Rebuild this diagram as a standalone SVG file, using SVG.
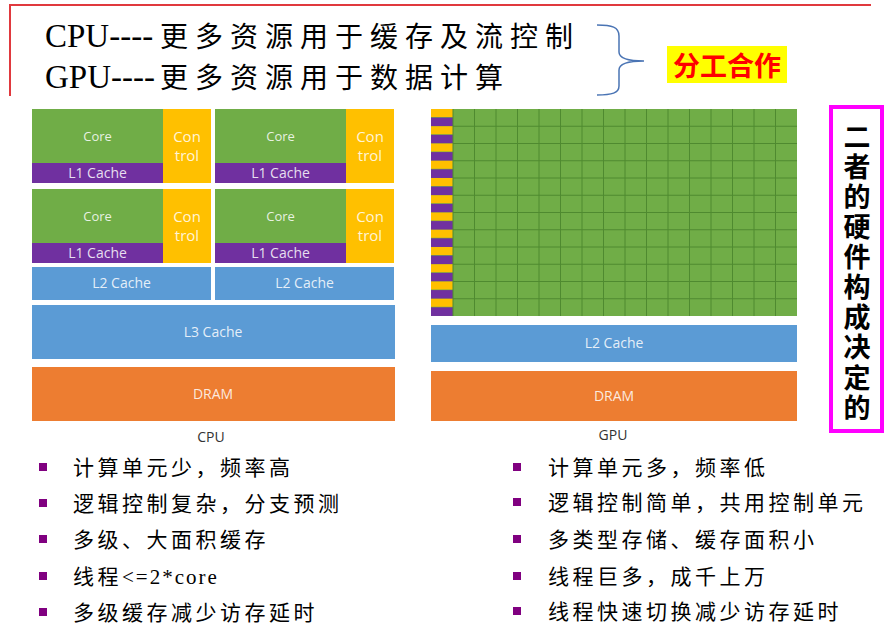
<svg xmlns="http://www.w3.org/2000/svg" width="888" height="636" viewBox="0 0 888 636">
<style>
.ttl{font-family:"Liberation Serif","Noto Sans CJK SC",serif;fill:#000}
.lat{font-size:33px}
.cjk{font-family:"Noto Sans CJK SC",sans-serif;font-size:28px;letter-spacing:7px}
.lbl{font-family:"Open Sans","Liberation Sans",sans-serif;fill:#ffffff;fill-opacity:0.85;text-anchor:middle}
.core{font-size:13px}
.l1{font-size:14px}
.ctl{font-size:15px}
.big{font-size:14px}
.cap{font-family:"Open Sans","Liberation Sans",sans-serif;font-size:14px;fill:#333;text-anchor:middle}
.green{fill:#70ad47}
.purple{fill:#7030a0}
.yellow{fill:#ffc000}
.blue{fill:#5b9bd5}
.orange{fill:#ed7d31}
.bul{fill:#800080}
.btx{font-family:"Noto Sans CJK SC",sans-serif;font-size:21px;letter-spacing:3.5px;fill:#000}
.btxl{font-family:"Liberation Serif",serif;font-size:21px;letter-spacing:2px}
.vt{font-family:"Noto Sans CJK SC",sans-serif;font-size:27px;font-weight:700;fill:#000;writing-mode:vertical-rl;text-orientation:upright;letter-spacing:3.1px}
.grid{stroke:#4f8a30;stroke-width:1}
</style>

<g id="header">
  <path d="M10 96 V5 H871" fill="none" stroke="#e0393e" stroke-width="2"/>
  <text class="ttl" x="45" y="47"><tspan class="lat">CPU----</tspan><tspan class="cjk" x="160">更多资源用于缓存及流控制</tspan></text>
  <text class="ttl" x="45" y="88"><tspan class="lat">GPU----</tspan><tspan class="cjk" x="160">更多资源用于数据计算</tspan></text>
</g>

<g id="connectors">
  <path d="M597 25 C612 25 619 27 619 36 V52 C619 58 626 61 644 61 C626 61 619 64 619 70 V86 C619 93 612 95 597 95" fill="none" stroke="#4a74b4" stroke-width="1.5"/>
</g>

<g id="fengong">
  <rect x="667" y="46" width="120" height="37" fill="#ffff00"/>
  <text x="727" y="76" font-family="Noto Sans CJK SC, sans-serif" font-size="27" font-weight="700" fill="#ff0000" text-anchor="middle">分工合作</text>
</g>

<g id="cpu">
  <g id="cpu-core1">
    <rect class="green" x="32" y="109" width="131" height="54"/>
    <rect class="purple" x="32" y="163" width="131" height="20"/>
    <rect class="yellow" x="163" y="109" width="48" height="74"/>
    <text class="lbl core" x="97.5" y="141">Core</text>
    <text class="lbl l1" x="97.5" y="178">L1 Cache</text>
    <text class="lbl ctl" x="187" y="142">Con</text>
    <text class="lbl ctl" x="187" y="161">trol</text>
  </g>
  <g id="cpu-core2">
    <rect class="green" x="215" y="109" width="131" height="54"/>
    <rect class="purple" x="215" y="163" width="131" height="20"/>
    <rect class="yellow" x="346" y="109" width="48" height="74"/>
    <text class="lbl core" x="280.5" y="141">Core</text>
    <text class="lbl l1" x="280.5" y="178">L1 Cache</text>
    <text class="lbl ctl" x="370" y="142">Con</text>
    <text class="lbl ctl" x="370" y="161">trol</text>
  </g>
  <g id="cpu-core3">
    <rect class="green" x="32" y="189" width="131" height="54"/>
    <rect class="purple" x="32" y="243" width="131" height="20"/>
    <rect class="yellow" x="163" y="189" width="48" height="74"/>
    <text class="lbl core" x="97.5" y="221">Core</text>
    <text class="lbl l1" x="97.5" y="258">L1 Cache</text>
    <text class="lbl ctl" x="187" y="222">Con</text>
    <text class="lbl ctl" x="187" y="241">trol</text>
  </g>
  <g id="cpu-core4">
    <rect class="green" x="215" y="189" width="131" height="54"/>
    <rect class="purple" x="215" y="243" width="131" height="20"/>
    <rect class="yellow" x="346" y="189" width="48" height="74"/>
    <text class="lbl core" x="280.5" y="221">Core</text>
    <text class="lbl l1" x="280.5" y="258">L1 Cache</text>
    <text class="lbl ctl" x="370" y="222">Con</text>
    <text class="lbl ctl" x="370" y="241">trol</text>
  </g>
  <g id="cpu-l2a">
    <rect class="blue" x="32" y="267" width="179" height="33"/>
    <text class="lbl big" x="121.5" y="288">L2 Cache</text>
  </g>
  <g id="cpu-l2b">
    <rect class="blue" x="215" y="267" width="179" height="33"/>
    <text class="lbl big" x="304.5" y="288">L2 Cache</text>
  </g>
  <g id="cpu-l3">
    <rect class="blue" x="32" y="305" width="363" height="54"/>
    <text class="lbl big" x="213" y="337">L3 Cache</text>
  </g>
  <g id="cpu-dram">
    <rect class="orange" x="32" y="367" width="363" height="54"/>
    <text class="lbl big" x="213" y="399">DRAM</text>
  </g>
  <text class="cap" x="211" y="442">CPU</text>
</g>

<g id="gpu">
  <g id="gpu-grid">
    <rect class="green" x="431" y="109" width="366" height="207"/>
    <g id="gpu-strip">
      <rect class="yellow" x="431" y="109" width="22" height="8"/><rect class="purple" x="431" y="117.6" width="22" height="8.6"/>
      <rect class="yellow" x="431" y="126.25" width="22" height="8"/><rect class="purple" x="431" y="134.85" width="22" height="8.6"/>
      <rect class="yellow" x="431" y="143.5" width="22" height="8"/><rect class="purple" x="431" y="152.1" width="22" height="8.6"/>
      <rect class="yellow" x="431" y="160.75" width="22" height="8"/><rect class="purple" x="431" y="169.35" width="22" height="8.6"/>
      <rect class="yellow" x="431" y="178" width="22" height="8"/><rect class="purple" x="431" y="186.6" width="22" height="8.6"/>
      <rect class="yellow" x="431" y="195.25" width="22" height="8"/><rect class="purple" x="431" y="203.85" width="22" height="8.6"/>
      <rect class="yellow" x="431" y="212.5" width="22" height="8"/><rect class="purple" x="431" y="221.1" width="22" height="8.6"/>
      <rect class="yellow" x="431" y="229.75" width="22" height="8"/><rect class="purple" x="431" y="238.35" width="22" height="8.6"/>
      <rect class="yellow" x="431" y="247" width="22" height="8"/><rect class="purple" x="431" y="255.6" width="22" height="8.6"/>
      <rect class="yellow" x="431" y="264.25" width="22" height="8"/><rect class="purple" x="431" y="272.85" width="22" height="8.6"/>
      <rect class="yellow" x="431" y="281.5" width="22" height="8"/><rect class="purple" x="431" y="290.1" width="22" height="8.6"/>
      <rect class="yellow" x="431" y="298.75" width="22" height="8"/><rect class="purple" x="431" y="307.35" width="22" height="8.6"/>
    </g>
    <path class="grid" d="M453 109V316 M474.5 109V316 M496 109V316 M517.5 109V316 M539 109V316 M560.5 109V316 M582 109V316 M603.5 109V316 M625 109V316 M646.5 109V316 M668 109V316 M689.5 109V316 M711 109V316 M732.5 109V316 M754 109V316 M775.5 109V316
      M453 126.25H797 M453 143.5H797 M453 160.75H797 M453 178H797 M453 195.25H797 M453 212.5H797 M453 229.75H797 M453 247H797 M453 264.25H797 M453 281.5H797 M453 298.75H797"/>
  </g>
  <g id="gpu-l2">
    <rect class="blue" x="431" y="325" width="366" height="37"/>
    <text class="lbl big" x="614" y="348">L2 Cache</text>
  </g>
  <g id="gpu-dram">
    <rect class="orange" x="431" y="371" width="366" height="50"/>
    <text class="lbl big" x="614" y="401">DRAM</text>
  </g>
  <text class="cap" x="613" y="440">GPU</text>
</g>

<g id="conclusion">
  <rect x="831" y="107" width="51" height="324" fill="#ffffff" stroke="#ff00ff" stroke-width="4"/>
  <text class="vt" x="857" y="123">二者的硬件构成决定的</text>
</g>

<g id="cpu-list">
  <rect class="bul" x="39" y="463" width="8" height="8"/>
  <rect class="bul" x="39" y="499" width="8" height="8"/>
  <rect class="bul" x="39" y="535" width="8" height="8"/>
  <rect class="bul" x="39" y="572" width="8" height="8"/>
  <rect class="bul" x="39" y="608" width="8" height="8"/>
  <text class="btx" x="73" y="475">计算单元少，频率高</text>
  <text class="btx" x="73" y="511">逻辑控制复杂，分支预测</text>
  <text class="btx" x="73" y="547">多级、大面积缓存</text>
  <text class="btx" x="73" y="584">线程<tspan class="btxl">&lt;=2*core</tspan></text>
  <text class="btx" x="73" y="620">多级缓存减少访存延时</text>
</g>

<g id="gpu-list">
  <rect class="bul" x="513" y="463" width="8" height="8"/>
  <rect class="bul" x="513" y="498" width="8" height="8"/>
  <rect class="bul" x="513" y="535" width="8" height="8"/>
  <rect class="bul" x="513" y="572" width="8" height="8"/>
  <rect class="bul" x="513" y="607" width="8" height="8"/>
  <text class="btx" x="548" y="475">计算单元多，频率低</text>
  <text class="btx" x="548" y="510">逻辑控制简单，共用控制单元</text>
  <text class="btx" x="548" y="547">多类型存储、缓存面积小</text>
  <text class="btx" x="548" y="584">线程巨多，成千上万</text>
  <text class="btx" x="548" y="619">线程快速切换减少访存延时</text>
</g>
</svg>
